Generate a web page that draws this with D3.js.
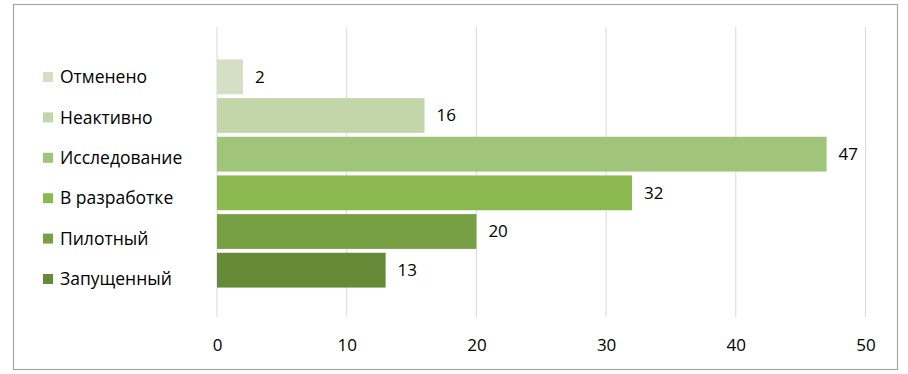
<!DOCTYPE html>
<html>
<head>
<meta charset="utf-8">
<script src="https://cdn.jsdelivr.net/npm/d3@7"></script>
<style>
  body { margin: 0; background: #fff; }
  svg text { font-family: "Open Sans", "Noto Sans", sans-serif; fill: #000; }
</style>
</head>
<body>
<svg id="chart" width="908" height="374"></svg>
<script>
// data
var stages = ['Отменено', 'Неактивно', 'Исследование', 'В разработке', 'Пилотный', 'Запущенный'];
var counts = [2, 16, 47, 32, 20, 13];
var colors = ['#d4dfc6', '#c3d6a9', '#a1c47b', '#8bb94f', '#77a044', '#658a38'];
var ticks = [0, 10, 20, 30, 40, 50];

var svg = d3.select('#chart');

// outer frame
svg.append('rect')
    .attr('x', 13.5).attr('y', 4.5)
    .attr('width', 884).attr('height', 365)
    .attr('fill', '#fff')
    .attr('stroke', '#a6a6a6')
    .attr('stroke-width', 1.2);

var x = d3.scaleLinear().domain([0, 50]).range([217, 865.5]);
var y = d3.scaleBand().domain(stages).range([57.5, 289.5]).paddingInner(0.1).paddingOuter(0.05);

// gridlines
svg.append('g').selectAll('line')
    .data(ticks)
    .enter().append('line')
    .attr('x1', function (d) { return x(d); })
    .attr('x2', function (d) { return x(d); })
    .attr('y1', 27)
    .attr('y2', 317)
    .attr('stroke', '#d9d9d9')
    .attr('stroke-width', 1);

// x axis labels
var xAxis = svg.append('g')
    .attr('transform', 'translate(0,' + 317 + ')')
    .call(d3.axisBottom(x).tickValues(ticks).tickSize(0).tickPadding(0).tickFormat(d3.format('d')));
xAxis.select('.domain').remove();
xAxis.selectAll('text')
    .attr('dy', null)
    .attr('y', 34)
    .attr('font-size', '17px')
    .attr('font-family', '"Open Sans", sans-serif')
    .attr('fill', '#000');

// bars
svg.append('g').selectAll('rect')
    .data(stages)
    .enter().append('rect')
    .attr('x', x(0))
    .attr('y', function (d) { return y(d); })
    .attr('width', function (d, i) { return x(counts[i]) - x(0); })
    .attr('height', y.bandwidth())
    .attr('fill', function (d, i) { return colors[i]; });

// value labels
svg.append('g').selectAll('text')
    .data(stages)
    .enter().append('text')
    .attr('x', function (d, i) { return x(counts[i]) + 12; })
    .attr('y', function (d) { return y(d) + y.bandwidth() / 2; })
    .attr('dy', '0.35em')
    .attr('font-size', '17px')
    .text(function (d, i) { return counts[i]; });

// legend on the left
var legendY = d3.scalePoint().domain(stages).range([77, 279]);
var legend = svg.append('g').selectAll('g')
    .data(stages)
    .enter().append('g')
    .attr('transform', function (d) { return 'translate(43,' + legendY(d) + ')'; });

legend.append('rect')
    .attr('x', 0).attr('y', -5)
    .attr('width', 10).attr('height', 10)
    .attr('fill', function (d, i) { return colors[i]; });

legend.append('text')
    .attr('x', 17)
    .attr('dy', '0.35em')
    .attr('font-size', '17.5px')
    .text(function (d) { return d; });
</script>
</body>
</html>
